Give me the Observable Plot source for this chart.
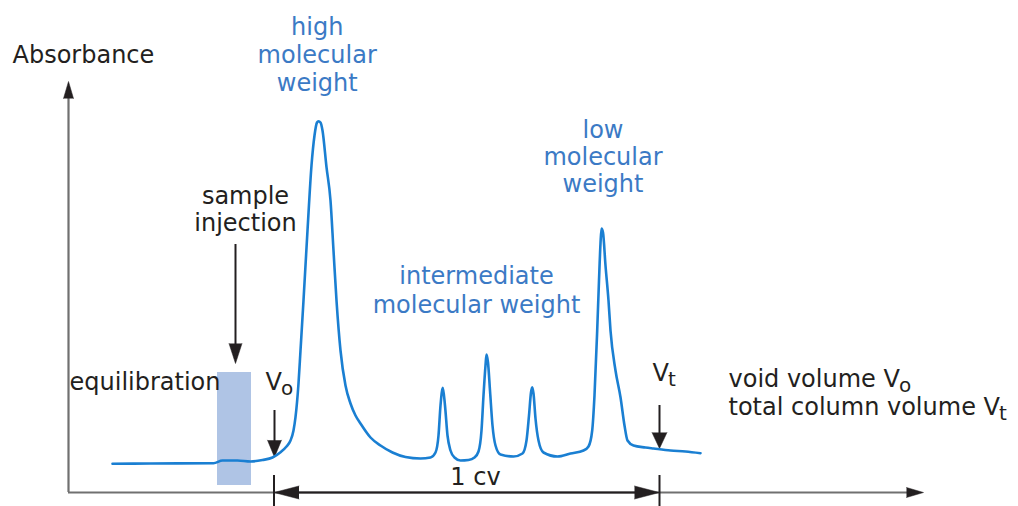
<!DOCTYPE html>
<html>
<head>
<meta charset="utf-8">
<script src="https://cdn.jsdelivr.net/npm/d3@7"></script>
<script src="https://cdn.jsdelivr.net/npm/@observablehq/plot@0.6"></script>
<style>
  html, body { margin: 0; padding: 0; background: #ffffff; }
</style>
</head>
<body>
<script>
// Elution volume (arbitrary units) and absorbance (arbitrary units) of the chromatogram trace
const volume = [4.4, 8.2, 14.5, 15.4, 16.9, 18.2, 19.4, 20.4, 21.2, 21.8, 22.2, 22.5, 22.7, 23.0, 23.2, 23.5, 23.9, 24.3, 24.6, 24.85, 25.0, 25.2, 25.4, 25.8, 26.2, 26.5, 26.8, 27.2, 27.7, 28.2, 28.7, 29.2, 30.2, 31.2, 32.4, 33.7, 35.2, 36.2, 36.7, 37.0, 37.2, 37.43, 37.65, 37.9, 38.2, 38.6, 39.2, 40.0, 40.6, 41.0, 41.3, 41.5, 41.7, 41.8, 41.95, 42.15, 42.4, 42.7, 43.2, 44.5, 45.4, 45.8, 46.05, 46.25, 46.37, 46.5, 46.7, 47.0, 47.5, 48.9, 50.2, 51.5, 52.0, 52.37, 52.6, 52.87, 53.05, 53.2, 53.3, 53.45, 53.7, 54.0, 54.2, 54.7, 55.2, 55.6, 55.9, 56.5, 57.7, 58.5, 60.2, 61.7, 63.2];
const absorbance = [2.87, 2.9, 2.93, 3.2, 3.2, 3.1, 3.25, 3.5, 4.03, 4.6, 5.2, 6.2, 7.53, 10.9, 14.2, 19.2, 26.2, 32.7, 35.7, 37.0, 37.13, 37.0, 36.2, 32.53, 29.2, 24.2, 19.2, 14.2, 10.7, 8.9, 7.7, 6.9, 5.5, 4.7, 4.0, 3.55, 3.4, 3.5, 4.0, 5.7, 8.7, 10.47, 8.7, 5.7, 4.2, 3.5, 3.2, 3.25, 3.5, 4.1, 6.2, 9.7, 12.7, 13.8, 13.0, 10.2, 6.7, 4.7, 3.8, 3.6, 3.9, 5.2, 7.7, 10.0, 10.53, 9.9, 7.4, 5.2, 4.0, 3.6, 3.9, 4.2, 4.6, 6.2, 9.7, 16.2, 21.2, 24.9, 26.4, 26.0, 22.7, 19.2, 16.2, 12.2, 9.53, 6.7, 5.2, 4.7, 4.5, 4.4, 4.2, 4.1, 3.93];

// Key volumes
const voidVolume = 20.55;   // Vo
const totalVolume = 59.1;   // Vt
const injectionStart = 14.9;
const injectionEnd = 18.3;
const injectionTop = 12.0;
const injectionBottom = 0.7;

// Axis extents
const xMax = 85.5;
const yMax = 41.1;

// Peak labels (blue)
const peakLabels = ["high\nmolecular\nweight", "intermediate\nmolecular weight", "low\nmolecular\nweight"];
const peakLabelX = [24.87, 40.8, 53.45];
const peakLabelY = [40.13, 17.93, 30.03];
const peakLabelLineHeight = [1.167, 1.22, 1.13];

// Black labels
const noteLabels = ["Absorbance", "sample\ninjection", "equilibration", "1 cv"];
const noteLabelX = [-5.6, 17.7, 0.1, 40.7];
const noteLabelY = [43.0, 26.2, 10.3, 0.77];
const noteLabelAnchor = ["start", "middle", "start", "middle"];
const noteLabelLineHeight = [1, 1.11, 1, 1];

// Volume labels with subscripts
const volText = ["V", "V", "void volume V", "total column volume V"];
const volSub = ["o", "t", "o", "t"];
const volX = [19.7, 58.4, 66.0, 66.0];
const volY = [10.3, 11.2, 10.6, 7.8];

// Annotation arrows (vertical, pointing down)
const arrowX = [16.7, 20.6, 59.1];
const arrowTop = [24.8, 8.2, 8.7];
const arrowTip = [12.9, 3.53, 4.4];
const arrowLen = [20, 17, 16];
const arrowR = [6.5, 7, 7.5];

const trace = volume.map((v, i) => ({volume: v, absorbance: absorbance[i]}));
const peaks = peakLabels.map((t, i) => ({text: t, x: peakLabelX[i], y: peakLabelY[i], lh: peakLabelLineHeight[i]}));
const notes = noteLabels.map((t, i) => ({text: t, x: noteLabelX[i], y: noteLabelY[i], anchor: noteLabelAnchor[i], lh: noteLabelLineHeight[i]}));
const vols = volText.map((t, i) => ({text: t, sub: volSub[i], x: volX[i], y: volY[i]}));
const arrows = arrowX.map((x, i) => ({x, top: arrowTop[i], tip: arrowTip[i], len: arrowLen[i], r: arrowR[i]}));

const FONT = "DejaVu Sans";
const BLUE_TEXT = "#3b7ac5";
const CURVE = "#1a7fd2";
const INK = "#231f20";
const AXIS = "#707070";

const pxPerX = 10;  // used only to shorten shafts so they stop inside arrowheads

const marks = [
  // injection band
  Plot.rect([{x1: injectionStart, x2: injectionEnd, y1: injectionBottom, y2: injectionTop}], {
    x1: "x1", x2: "x2", y1: "y1", y2: "y2", fill: "#afc4e5"
  }),
  // y axis
  Plot.ruleX([0], {y1: 0, y2: yMax - 1.2, stroke: AXIS, strokeWidth: 2.2}),
  Plot.vector([{x: 0, y: yMax}], {x: "x", y: "y", rotate: 0, anchor: "end", shape: "spike", length: 17, r: 5,
    fill: INK, stroke: INK, strokeWidth: 0.5}),
  // x axis
  Plot.ruleY([0], {x1: 0, x2: xMax - 1.2, stroke: AXIS, strokeWidth: 2.2}),
  Plot.vector([{x: xMax, y: 0}], {x: "x", y: "y", rotate: 90, anchor: "end", shape: "spike", length: 17, r: 5,
    fill: INK, stroke: INK, strokeWidth: 0.5}),
  // 1 cv double arrow
  Plot.ruleY([0], {x1: voidVolume + 1.5, x2: totalVolume - 1.5, stroke: INK, strokeWidth: 2}),
  Plot.vector([{x: voidVolume}], {x: "x", y: 0, rotate: 270, anchor: "end",
    shape: "spike", length: 25, r: 6.5, fill: INK, stroke: INK, strokeWidth: 0.5}),
  Plot.vector([{x: totalVolume}], {x: "x", y: 0, rotate: 90, anchor: "end",
    shape: "spike", length: 25, r: 6.5, fill: INK, stroke: INK, strokeWidth: 0.5}),
  Plot.ruleX([voidVolume, totalVolume], {y1: 1.7, y2: -1.5, stroke: INK, strokeWidth: 2}),
  // annotation arrows
  ...arrows.map((a) => Plot.ruleX([a], {x: "x", y1: "top", y2: a.tip + a.len / pxPerX * 0.8, stroke: INK, strokeWidth: 2})),
  ...arrows.map((a) => Plot.vector([a], {x: "x", y: "tip", rotate: 180, anchor: "end", shape: "spike", length: a.len, r: a.r,
    fill: INK, stroke: INK, strokeWidth: 0.5})),
  // chromatogram
  Plot.line(trace, {x: "volume", y: "absorbance", curve: "monotone-x", stroke: CURVE, strokeWidth: 2.6,
    strokeLinejoin: "round", strokeLinecap: "round"}),
  // peak labels
  ...peaks.map((p) => Plot.text([p], {x: "x", y: "y", text: "text", lineAnchor: "bottom", textAnchor: "middle",
    lineHeight: p.lh, fill: BLUE_TEXT, fontSize: 24, fontFamily: FONT})),
  // black notes
  ...notes.map((n) => Plot.text([n], {x: "x", y: "y", text: "text", lineAnchor: "bottom",
    textAnchor: n.anchor, lineHeight: n.lh, fill: INK, fontSize: 24, fontFamily: FONT})),
  // V labels
  Plot.text(vols, {x: "x", y: "y", text: "text", lineAnchor: "bottom", textAnchor: "start",
    fill: INK, fontSize: 24, fontFamily: FONT})
];

const chart = Plot.plot({
  width: 1018,
  height: 506,
  marginLeft: 68,
  marginRight: 95,
  marginTop: 81,
  marginBottom: 14,
  x: {domain: [0, xMax], axis: null},
  y: {domain: [0, yMax], axis: null},
  style: {background: "#ffffff", fontFamily: FONT, overflow: "visible"},
  marks
});

// subscripts (o, t) appended as tspans, in the order of the vols data
const volTexts = Array.from(chart.querySelectorAll("text")).filter((el) => volText.includes(el.textContent));
volTexts.forEach((el, i) => {
  const d = vols[i];
  if (!d || !d.sub) return;
  d3.select(el).append("tspan")
    .attr("dy", "0.26em")
    .attr("dx", "-1")
    .attr("font-size", "20px")
    .text(d.sub);
});

document.body.append(chart);
</script>
</body>
</html>
